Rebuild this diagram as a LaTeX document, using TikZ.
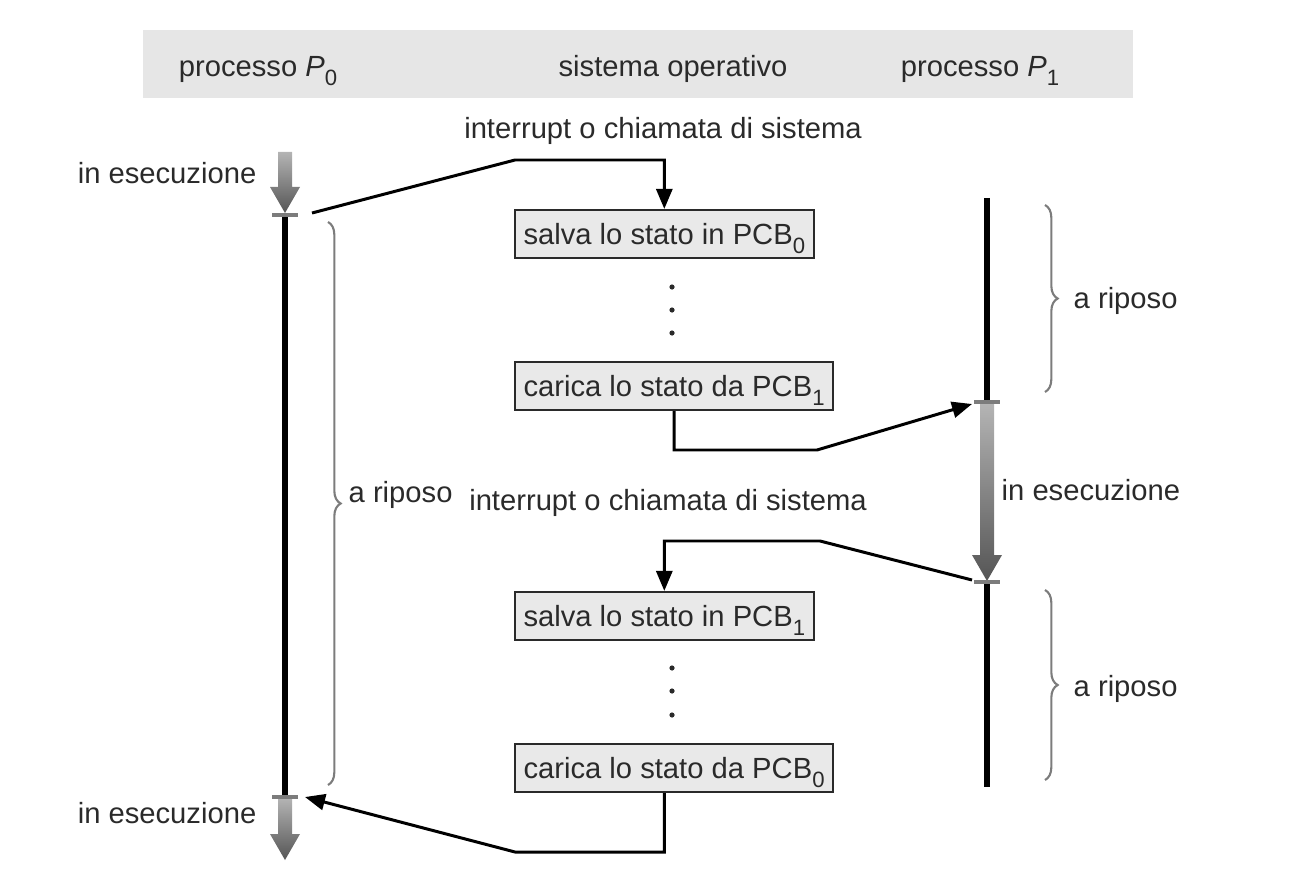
\documentclass[tikz,border=0pt]{standalone}
\usepackage{fontspec}
\setmainfont{Liberation Sans}
\usetikzlibrary{arrows.meta,decorations.pathreplacing,calc}
\definecolor{osInk}{HTML}{2A2A2A}
\definecolor{osBar}{HTML}{E6E6E6}
\definecolor{osBox}{HTML}{E9E9E9}
\definecolor{osTick}{HTML}{7C7C7C}
\definecolor{osRunA}{HTML}{B4B4B4}
\definecolor{osRunB}{HTML}{555555}
\newcommand{\idx}[1]{\raisebox{-0.6ex}[0pt][0pt]{\fontsize{6.3}{7}\selectfont #1}}
\newcommand{\runarrow}[3]{%
  \shade[top color=osRunA,bottom color=osRunB]
    ({#1-7},#2) -- ({#1+7},#2) -- ({#1+7},{#3-26}) -- ({#1+15},{#3-26})
    -- (#1,#3) -- ({#1-15},{#3-26}) -- ({#1-7},{#3-26}) -- cycle;}

\begin{document}
\begin{tikzpicture}[x=0.01cm,y=-0.01cm]
  \tikzset{
    txt/.style={font=\fontsize{8.3}{10}\selectfont,text=osInk,inner sep=0pt,text height=1.6ex,text depth=0.45ex},
    state/.style={txt,draw=osInk,fill=osBox,line width=0.6pt,anchor=west,minimum height=0.48cm,inner xsep=2.4pt},
    life/.style={line width=1.7pt,black},
    tick/.style={osTick,line width=0.9pt},
    link/.style={line width=0.85pt,black,-{Triangle[length=0.2cm,width=0.16cm]}},
    rest/.style={decorate,decoration={brace,amplitude=3.6pt},osTick,line width=0.6pt}
  }
  \useasboundingbox (0,0) rectangle (1309,870);

  \fill[osBar] (143,30) rectangle (1133,98);
  \node[txt] (hp0) at (258,66) {processo \textit{P}\idx{0}};
  \node[txt] (hos) at (673,66) {sistema operativo};
  \node[txt] (hp1) at (980,66) {processo \textit{P}\idx{1}};

  \node[txt] (int0) at (663,128) {interrupt o chiamata di sistema};
  \node[txt] (int1) at (668,500) {interrupt o chiamata di sistema};

  \node[state] (save0) at (514,234) {salva lo stato in PCB\idx{0}};
  \node[state] (load1) at (514,386) {carica lo stato da PCB\idx{1}};
  \node[state] (save1) at (514,616) {salva lo stato in PCB\idx{1}};
  \node[state] (load0) at (514,768) {carica lo stato da PCB\idx{0}};
  \foreach \y in {287,310,333,668,691,715}
    {\fill[osInk] (672,\y) circle (2.6);}

  % processo P0
  \runarrow{285}{152}{213}
  \runarrow{285}{798}{860}
  \draw[life] (285,215) -- (285,797);
  \draw[tick] (272,215) -- (298,215);
  \draw[tick] (272,797) -- (298,797);
  \node[txt,anchor=east] (run0a) at (257,173) {in esecuzione};
  \node[txt,anchor=east] (run0b) at (257,813) {in esecuzione};
  \draw[rest] (328,222) -- (328,785);
  \node[txt,anchor=west] (idle0) at (348,492) {a riposo};

  % processo P1
  \draw[life] (987,198) -- (987,402);
  \runarrow{987}{404}{581}
  \draw[life] (987,583) -- (987,787);
  \draw[tick] (974,402) -- (1000,402);
  \draw[tick] (974,582) -- (1000,582);
  \node[txt,anchor=west] (run1) at (1001,490) {in esecuzione};
  \draw[rest] (1045,205) -- (1045,392);
  \draw[rest] (1045,590) -- (1045,780);
  \node[txt,anchor=west] (idle1a) at (1073,298) {a riposo};
  \node[txt,anchor=west] (idle1b) at (1073,686) {a riposo};

  \coordinate (p0out) at (312,213);
  \coordinate (p0in) at (305,797);
  \coordinate (p1in) at (972,404);
  \coordinate (p1out) at (972,580);

  \draw[link] (p0out) -- (515,160) -| (save0.north);
  \draw[link] (load1.south) |- (817,450) -- (p1in);
  \draw[link] (p1out) -- (820,541) -| (save1.north);
  \draw[link] (load0.south -| save1.north) |- (515,852) -- (p0in);
\end{tikzpicture}
\end{document}
